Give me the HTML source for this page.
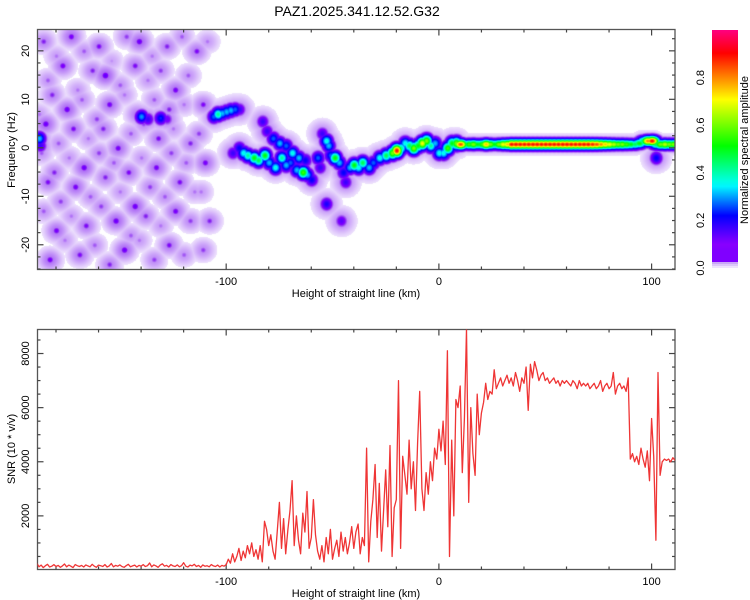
<!DOCTYPE html>
<html><head><meta charset="utf-8">
<style>
html,body{margin:0;padding:0;background:#fff;}
body{width:750px;height:600px;position:relative;overflow:hidden;font-family:"Liberation Sans",sans-serif;}
#spec{position:absolute;left:38px;top:30px;}
svg{position:absolute;left:0;top:0;}
</style></head>
<body>
<canvas id="spec" width="637" height="240"></canvas>
<svg id="chart" width="750" height="600"></svg>
<script>
// ---------- data ----------
const ridgeKm=[-188,-187.5,-140,-137,-131,-128,-106,-104,-102,-100,-98,-96,-94,
-97,-94,-92,-90,-87,-85,-82,-80,-77,-74,-72,-70,-67,-64,-62,-60,
-83,-81,-78,-75,-72,-69,-66,-63,
-55,-53,-52,-51,-49,-47,-45,-44,-57,-56,
-42,-40,-38,-36,-33,-31,
-28,-25,-22,-20,-18,-16,-14,-12,-10,-8,-6,-4,-2,0,2,4,6,8,
-53,-46,
10,12,14,16,18,20,22,24,26,28,30,32,34,36,38,40,42,44,46,48,50,52,54,56,58,60,62,64,66,68,70,72,74,76,78,80,82,84,86,88,90,92,94,96,98,100,102,104,106,108,110,102];
const ridgeHz=[2,0.5,6.5,6,6.2,6,6.5,7,7.2,7.5,7.8,8,8,
-1,0,-1,-1.5,-2,-2.5,-1.5,-3,-4,-2,-3.5,-3,-4.5,-5,-5.5,-6.5,
5.5,3.5,2,1,0.5,-1,-2,-2.5,
3,1.5,0.5,-1.5,-2,-3,-5,-7,-2,-4,
-4,-3.5,-4,-3,-4,-3,
-2,-1.5,-1,-0.5,0,1,0.5,0,0.5,1,1.5,0.5,1,-1,-1,0,1,1,
-11.5,-15,
0.8,0.8,0.8,0.8,0.8,0.8,0.8,0.8,0.8,0.8,0.8,0.8,0.8,0.8,0.8,0.8,0.8,0.8,0.8,0.8,0.8,0.8,0.8,0.8,0.8,0.8,0.8,0.8,0.8,0.8,0.8,0.8,0.8,0.8,0.8,0.8,0.8,0.8,0.8,0.8,0.8,0.8,1,1.5,1.5,1.5,0.8,0.8,0.8,0.8,0.8,-2];
const ridgeAmp=[0.3,0.15,0.28,0.15,0.22,0.1,0.25,0.4,0.3,0.3,0.3,0.25,0.15,
0.15,0.2,0.35,0.4,0.5,0.45,0.5,0.3,0.35,0.4,0.3,0.25,0.3,0.55,0.3,0.2,
0.15,0.15,0.25,0.3,0.25,0.35,0.3,0.2,
0.15,0.35,0.3,0.25,0.5,0.3,0.2,0.15,0.25,0.15,
0.3,0.5,0.35,0.45,0.3,0.25,
0.35,0.45,0.6,0.9,0.4,0.35,0.45,0.6,0.5,0.7,0.6,0.4,0.3,0.35,0.35,0.55,0.5,0.6,
0.18,0.12,
0.85,0.5,0.55,0.6,0.5,0.55,0.75,0.6,0.5,0.6,0.7,0.75,0.9,0.9,0.9,0.9,0.9,0.9,0.9,0.9,0.9,0.9,0.9,0.9,0.9,0.9,0.9,0.9,0.9,0.9,0.9,0.88,0.85,0.8,0.75,0.7,0.65,0.6,0.6,0.55,0.5,0.45,0.5,0.45,0.8,0.9,0.45,0.6,0.65,0.6,0.6,0.2];
const noiseKm=[-186,-180,-173,-167,-160,-154,-147,-141,-135,-128,-121,-114,-109,
-184,-177,-170,-163,-157,-150,-143,-137,-131,-124,-118,-111,
-188,-182,-175,-168,-161,-155,-148,-142,-134,-127,-120,-113,
-185,-179,-172,-165,-158,-151,-145,-139,-132,-125,-117,-110,
-187,-181,-174,-167,-160,-153,-146,-140,-133,-126,-119,-112,
-184,-178,-171,-164,-157,-150,-143,-136,-129,-122,-115,-108,
-186,-180,-173,-166,-159,-152,-145,-138,-131,-124,-117,-111,
-183,-176,-169,-162,-155,-148,-141,-134,-127,-120,-113];
const noiseHz=[22,19,23,20,21,18,23,22,19,21,23,20,22,
14,17,12,16,15,13,17,14,16,12,15,
9,7,11,8,10,6,9,11,7,10,8,9,
3,5,1,4,2,4,0,3,5,2,4,1,
-3,-1,-5,-2,-4,-1,-3,-5,-2,-4,-1,-3,
-9,-7,-11,-8,-10,-6,-9,-12,-8,-10,-7,-9,
-15,-13,-17,-14,-16,-12,-15,-18,-14,-16,-13,-15,
-21,-23,-19,-22,-20,-24,-21,-19,-23,-20,-22];
const noiseAmp=[0.08,0.05,0.1,0.06,0.09,0.04,0.07,0.11,0.05,0.08,0.06,0.09,0.05,
0.06,0.1,0.05,0.08,0.12,0.06,0.09,0.05,0.07,0.1,0.06,
0.09,0.05,0.08,0.11,0.06,0.07,0.1,0.05,0.09,0.06,0.08,0.05,
0.07,0.11,0.06,0.09,0.05,0.08,0.1,0.06,0.07,0.09,0.05,0.08,
0.1,0.06,0.08,0.05,0.11,0.07,0.06,0.09,0.05,0.1,0.07,0.06,
0.05,0.09,0.07,0.1,0.06,0.08,0.05,0.11,0.07,0.06,0.09,0.05,
0.08,0.06,0.1,0.05,0.09,0.07,0.11,0.06,0.08,0.05,0.1,0.07,
0.07,0.1,0.05,0.09,0.06,0.08,0.11,0.05,0.07,0.09,0.06];
const snrStartKm=-189, snrStepKm=1;
const snrValues=[250,120,180,90,160,210,110,140,200,130,170,100,150,220,120,180,140,90,200,160,
130,170,110,190,150,120,210,140,100,180,160,130,200,110,150,240,120,170,140,190,
130,100,160,210,120,150,180,110,170,140,200,130,160,260,120,190,150,100,180,230,
140,170,110,200,150,130,190,120,160,270,140,110,180,150,210,130,170,100,190,140,
160,120,200,150,130,180,110,170,140,200,
400,250,600,300,500,800,350,700,450,900,600,1000,500,750,400,900,300,
1800,1500,900,1300,700,400,1400,2500,800,1900,600,1500,2200,3300,900,2000,1100,600,2100,1400,2900,800,1200,
2600,1300,700,400,900,300,1200,600,1500,400,800,1100,500,1400,700,1200,600,1000,1600,
800,1400,1700,600,1200,900,4500,300,1800,2600,3900,1200,3200,700,2200,3700,1600,4600,500,2300,
2600,7000,800,4200,3500,2800,4800,3000,4000,2200,
4700,6600,3000,2200,3600,2800,4000,3300,4500,4100,
5200,4400,5500,3900,8100,500,4800,2000,6300,6000,
6800,3600,5600,8900,2500,6000,4300,3500,6500,5000,
5800,6200,6900,6300,6600,6500,7400,6700,6900,7100,
6800,7000,7200,6900,7100,6800,7300,7000,6600,7100,
6900,7500,5900,7600,7100,7700,7400,7000,7200,7300,
7000,7100,6900,7000,7100,6900,7000,6800,7000,6900,
7000,6900,6800,7000,6900,6700,7000,6800,6900,6800,
6900,6700,6800,6900,6700,6800,7000,6600,6800,6900,
6700,6800,7300,6500,6800,6900,6700,6800,6600,7100,
4100,4300,4000,4200,3900,4500,4100,3800,4400,3300,
5600,4200,1100,7300,3500,4000,4100,4050,4100,4000,4150,4050];
const xTickLabels=["-100","0","100"], xTickVals=[-100,0,100];
const fTickVals=[20,10,0,-10,-20];
const snrTickVals=[2000,4000,6000,8000];
const cbTickVals=[0,0.2,0.4,0.6,0.8];

// ---------- axes ----------
const L=37.5,R=675,T1=29.5,B1=269.5,T2=329.5,B2=569.5;
const kmMin=-188.7,kmMax=111;
const xS=k=>L+(k-kmMin)/(kmMax-kmMin)*(R-L);
const fMin=-25.1,fMax=24.4;
const yF=f=>B1-(f-fMin)/(fMax-fMin)*(B1-T1);
const yS=v=>570-v*0.02706;
const cbTop=30,cbBot=268;
const yCB=v=>cbBot-v*(cbBot-cbTop);

// colormap
const hv=[0,0.08,0.2,0.33,0.5,0.7,0.8,0.9,1.0], hh=[272,272,240,180,120,60,30,0,-30];
function hsl2rgb(h){h=((h%360)+360)%360;const f=n=>{const k=(n+h/30)%12;return 255*(0.5-0.5*Math.max(-1,Math.min(k-3,9-k,1)));};return [f(0),f(8),f(4)];}
function baseCol(v){v=Math.max(0,Math.min(1,v));for(let i=0;i<hv.length-1;i++){if(v<=hv[i+1]){const t=(v-hv[i])/(hv[i+1]-hv[i]);return hsl2rgb(hh[i]+t*(hh[i+1]-hh[i]));}}return hsl2rgb(-30);}
function col(v){
  if(v<0.012) return null;
  if(v<0.08){const t=(v-0.012)/0.068;const a=[238,226,253],b=[125,20,240];return [a[0]+(b[0]-a[0])*t,a[1]+(b[1]-a[1])*t,a[2]+(b[2]-a[2])*t];}
  return baseCol(v);
}

// ---------- heatmap ----------
(function(){
  const cv=document.getElementById('spec');const ctx=cv.getContext('2d');
  const W=cv.width,H=cv.height;const img=ctx.createImageData(W,H);
  const blobs=[];
  for(let i=0;i<ridgeKm.length;i++){const band=ridgeKm[i]>=10&&ridgeHz[i]>0;
    blobs.push([xS(ridgeKm[i])-38,yF(ridgeHz[i])-30,ridgeAmp[i],band?5:4,band?3.3:4.3]);
    blobs.push([xS(ridgeKm[i])-38,yF(ridgeHz[i])-30,0.045,band?9:10,band?7:10]);}
  for(let i=0;i<noiseKm.length;i++){
    blobs.push([xS(noiseKm[i])-38,yF(noiseHz[i])-30,noiseAmp[i],2.6,2.6]);
    blobs.push([xS(noiseKm[i])-38,yF(noiseHz[i])-30,0.02+noiseAmp[i]*0.3,9,8.5]);}
  const val=new Float32Array(W*H);
  for(const b of blobs){
    const x0=Math.max(0,Math.floor(b[0]-4*b[3])),x1=Math.min(W-1,Math.ceil(b[0]+4*b[3]));
    const y0=Math.max(0,Math.floor(b[1]-4*b[4])),y1=Math.min(H-1,Math.ceil(b[1]+4*b[4]));
    for(let y=y0;y<=y1;y++)for(let x=x0;x<=x1;x++){
      const dx=(x-b[0])/b[3],dy=(y-b[1])/b[4];const v=b[2]*Math.exp(-(dx*dx+dy*dy)/2);
      const k=y*W+x;if(v>val[k])val[k]=v;}
  }
  for(let k=0;k<W*H;k++){
    const c=col(val[k]);const p=k*4;
    if(c){img.data[p]=c[0];img.data[p+1]=c[1];img.data[p+2]=c[2];}else{img.data[p]=255;img.data[p+1]=255;img.data[p+2]=255;}
    img.data[p+3]=255;
  }
  ctx.putImageData(img,0,0);
})();

// ---------- svg ----------
const svg=document.getElementById('chart');const NS='http://www.w3.org/2000/svg';
function mk(tag,attrs,parent){const e=document.createElementNS(NS,tag);for(const k in attrs)e.setAttribute(k,attrs[k]);(parent||svg).appendChild(e);return e;}
function txt(s,x,y,size,rot,name){const e=mk('text',{x:x,y:y,'font-size':size,'text-anchor':'middle','font-family':'Liberation Sans, sans-serif',fill:'#000'});if(rot)e.setAttribute('transform','rotate(-90 '+x+' '+y+')');e.textContent=s;


return e;}

txt('PAZ1.2025.341.12.52.G32',357,16,14,false,'chart-title');

function frame(top,bot,name){const r=mk('rect',{x:L,y:top,width:R-L,height:bot-top,fill:'none',stroke:'#555','stroke-width':1.3});

}
frame(T1,B1,'spectrogram-frame');frame(T2,B2,'snr-frame');

function tick(x1,y1,x2,y2,name){const l=mk('line',{x1:x1,y1:y1,x2:x2,y2:y2,stroke:'#444','stroke-width':1.2});

}
for(let k=-180;k<=110;k+=20){const x=xS(k);const major=(k%100===0);const len=major?6:3;
  for(const [top,bot] of [[T1,B1],[T2,B2]]){tick(x,bot,x,bot-len,'x-tick');tick(x,top,x,top+len,'x-tick');}}
xTickVals.forEach((v,i)=>{txt(xTickLabels[i],xS(v),285,11,false,'x-tick-label');txt(xTickLabels[i],xS(v),585,11,false,'x-tick-label');});
txt('Height of straight line (km)',356,297,11,false,'x-axis-title');
txt('Height of straight line (km)',356,597,11,false,'x-axis-title');
for(let f=-25;f<=24.4;f+=2.5){if(f<fMin)continue;const y=yF(f);const major=(Math.abs(f)%10===0);const len=major?6:3;tick(L,y,L+len,y,'y-tick');tick(R,y,R-len,y,'y-tick');}
fTickVals.forEach(v=>txt(String(v),29,yF(v),11,true,'y-tick-label'));
txt('Frequency (Hz)',15,150,11,true,'y-axis-title');
for(let v=500;v<=8800;v+=500){const y=yS(v);const major=(v%2000===0);const len=major?6:3;tick(L,y,L+len,y,'y-tick');tick(R,y,R-len,y,'y-tick');}
snrTickVals.forEach(v=>txt(String(v),29,yS(v),11,true,'y-tick-label'));
txt('SNR (10 * v/v)',15,449,11,true,'y-axis-title');

const defs=mk('defs',{});const cp=mk('clipPath',{id:'clip2'},defs);mk('rect',{x:L,y:T2,width:R-L,height:B2-T2},cp);
let d='';snrValues.forEach((v,i)=>{const x=xS(snrStartKm+i*snrStepKm);d+=(i?'L':'M')+x.toFixed(1)+' '+yS(v).toFixed(1);});
const line=mk('path',{d:d,fill:'none',stroke:'#ef3535','stroke-width':1.3,'clip-path':'url(#clip2)','stroke-linejoin':'round'});



const grad=mk('linearGradient',{id:'cbg',x1:0,y1:1,x2:0,y2:0},defs);
for(let i=0;i<=40;i++){const v=i/40;const c=v<0.06?[128,0,255]:baseCol(v);mk('stop',{offset:v,'stop-color':'rgb('+c.map(Math.round).join(',')+')'},grad);}
const cb=mk('rect',{x:712,y:cbTop,width:26,height:cbBot-cbTop-6,fill:'url(#cbg)'});


[[262,'#c9a8f6'],[264,'#ddc8fa'],[266,'#efe4fd']].forEach(s=>{const r=mk('rect',{x:712,y:s[0],width:26,height:2,fill:s[1]});

});
cbTickVals.forEach(v=>txt(v.toFixed(1),704,yCB(v),11,true,'colorbar-tick-label'));
txt('Normalized spectral amplitude',748,150,11,true,'colorbar-title');
</script>
</body></html>
